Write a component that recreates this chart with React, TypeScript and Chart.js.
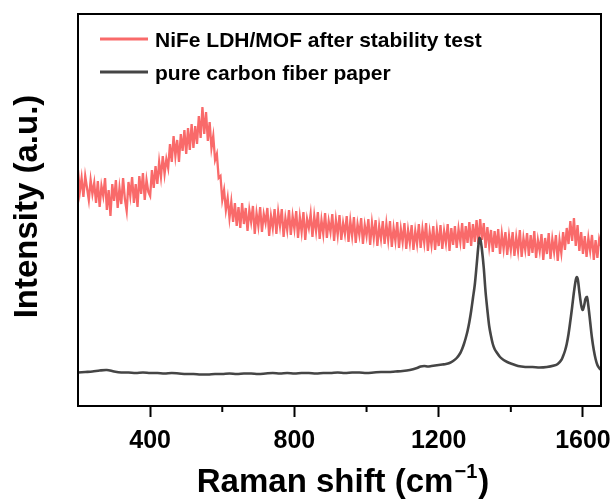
import { useEffect, useRef } from "react";
import { Chart, registerables } from "chart.js";

Chart.register(...registerables);

const X_MIN = 200;
const X_MAX = 1650;
const Y_MIN = 0;
const Y_MAX = 392;
const X_TICKS = [400, 800, 1200, 1600];
const X_MINOR_TICKS = [600, 1000, 1400];
const SERIES_LABELS = ["NiFe LDH/MOF after stability test", "pure carbon fiber paper"];
const X_TITLE = "Raman shift (cm";
const X_TITLE_SUP = "\u22121";
const Y_TITLE = "Intensity (a.u.)";

// NiFe LDH/MOF after stability test: sampled every 5 cm-1 from 200 to 1650
const RED_START = 200;
const RED_STEP = 5;
const redY = [
  236, 214, 228, 209, 230, 218, 206, 226, 212, 223,
  203, 225, 199, 220, 210, 228, 196, 216, 190, 222,
  205, 226, 198, 218, 202, 228, 207, 195, 224, 210,
  229, 203, 222, 199, 230, 212, 233, 206, 226, 214,
  210, 236, 218, 240, 222, 244, 229, 250, 232, 247,
  238, 262, 244, 270, 250, 266, 244, 272, 255, 276,
  252, 278, 256, 282, 258, 280, 262, 290, 268, 299,
  272, 294, 265, 284, 258, 270, 246, 252, 228, 230,
  206, 216, 196, 208, 188, 204, 184, 203, 180, 199,
  178, 203, 182, 198, 175, 196, 184, 200, 172, 193,
  180, 199, 174, 192, 183, 198, 170, 190, 178, 197,
  172, 194, 180, 197, 169, 188, 176, 196, 171, 190,
  177, 195, 168, 189, 174, 194, 166, 187, 178, 192,
  169, 190, 175, 194, 167, 186, 172, 193, 168, 185,
  174, 192, 165, 186, 171, 191, 166, 183, 172, 190,
  164, 185, 170, 189, 163, 182, 171, 188, 162, 181,
  170, 187, 161, 183, 168, 186, 160, 180, 167, 185,
  162, 182, 166, 185, 159, 178, 165, 184, 158, 177,
  164, 183, 157, 176, 163, 181, 156, 175, 162, 182,
  158, 177, 163, 183, 155, 174, 161, 180, 156, 176,
  160, 181, 157, 175, 163, 182, 155, 178, 161, 180,
  158, 177, 164, 183, 157, 180, 163, 184, 160, 182,
  164, 186, 162, 187, 166, 183, 158, 179, 160, 176,
  154, 175, 158, 177, 152, 172, 157, 174, 151, 170,
  156, 174, 150, 169, 155, 176, 149, 168, 156, 173,
  150, 171, 153, 175, 148, 166, 155, 172, 146, 168,
  152, 173, 147, 167, 154, 171, 145, 166, 153, 174,
  156, 178, 162, 185, 165, 188, 160, 181, 155, 174,
  152, 170, 149, 168, 155, 171, 146, 166, 148, 167,
  160,
];

// pure carbon fiber paper
const grayX = [
  200, 220, 240, 260, 280, 300, 320, 340, 360, 380,
  400, 420, 440, 460, 480, 500, 520, 540, 560, 580,
  600, 620, 640, 660, 680, 700, 720, 740, 760, 780,
  800, 820, 840, 860, 880, 900, 920, 940, 960, 980,
  1000, 1020, 1040, 1060, 1080, 1100, 1120, 1140, 1150, 1160,
  1170, 1180, 1190, 1200, 1210, 1220, 1230, 1240, 1250, 1260,
  1265, 1270, 1275, 1280, 1285, 1290, 1295, 1300, 1305, 1310,
  1313, 1316, 1320, 1325, 1330, 1335, 1340, 1345, 1350, 1355,
  1360, 1370, 1380, 1390, 1400, 1420, 1440, 1460, 1480, 1500,
  1520, 1530, 1540, 1545, 1550, 1555, 1560, 1565, 1570, 1575,
  1580, 1583, 1586, 1590, 1595, 1599, 1603, 1607, 1611, 1615,
  1620, 1625, 1630, 1635, 1640, 1645, 1650,
];
const grayY = [
  33.5, 34, 34.5, 35.5, 36, 34.5, 33.5, 33.5, 33, 33.5,
  33, 33, 32.5, 33, 32.5, 32, 32, 31.5, 31.5, 32,
  32, 32.5, 32, 32.5, 32.5, 32, 32.5, 33, 32.5, 33,
  32.5, 33, 33, 32.5, 33, 33, 33.5, 33, 33.5, 33.5,
  33, 33.5, 34, 34, 34.5, 35, 36, 38, 39.5, 40,
  39.5, 40, 40.5, 41, 41.5, 42, 43, 45, 48, 53,
  57, 62, 68, 75, 84, 95, 108, 121, 140, 160,
  168, 166, 156, 138, 114, 96, 80, 70, 62, 57,
  54, 49, 46, 44, 42.5, 40, 39, 39, 38.5, 39,
  40.5, 42, 46, 50, 55, 62, 72, 85, 99, 114,
  126, 129, 126, 114, 101, 96, 100, 107, 109, 100,
  84, 68, 56, 47, 41, 38, 36,
];

const RED_COLOR = "#f96a6a";
const GRAY_COLOR = "#454545";
const FONT = '"Liberation Sans", Arial, Helvetica, sans-serif';

const decorPlugin = {
  id: "decor",
  afterDraw(chart: any) {
    const { ctx, chartArea: a, scales } = chart;
    const x = scales.x;
    ctx.save();
    // frame
    ctx.strokeStyle = "#000";
    ctx.lineWidth = 2;
    ctx.strokeRect(a.left, a.top, a.right - a.left, a.bottom - a.top);
    // minor ticks
    X_MINOR_TICKS.forEach((v) => {
      const px = x.getPixelForValue(v);
      ctx.beginPath();
      ctx.moveTo(px, a.bottom);
      ctx.lineTo(px, a.bottom + 6);
      ctx.stroke();
    });
    // legend
    const colors = [RED_COLOR, GRAY_COLOR];
    const rowsY = [39, 72];
    ctx.font = `bold 21px ${FONT}`;
    ctx.textAlign = "left";
    ctx.textBaseline = "alphabetic";
    SERIES_LABELS.forEach((label, i) => {
      ctx.strokeStyle = colors[i];
      ctx.lineWidth = 3;
      ctx.beginPath();
      ctx.moveTo(100, rowsY[i]);
      ctx.lineTo(148, rowsY[i]);
      ctx.stroke();
      ctx.fillStyle = "#000";
      ctx.fillText(label, 155, rowsY[i] + 8);
    });
    // x title with superscript
    const mainFont = `bold 33px ${FONT}`;
    const supFont = `bold 20px ${FONT}`;
    ctx.font = mainFont;
    const w1 = ctx.measureText(X_TITLE).width;
    const w3 = ctx.measureText(")").width;
    ctx.font = supFont;
    const w2 = ctx.measureText(X_TITLE_SUP).width;
    const total = w1 + w2 + w3 + 2;
    let sx = 343 - total / 2;
    const by = 492;
    ctx.fillStyle = "#000";
    ctx.font = mainFont;
    ctx.fillText(X_TITLE, sx, by);
    sx += w1 + 1;
    ctx.font = supFont;
    ctx.fillText(X_TITLE_SUP, sx, by - 14);
    sx += w2 + 1;
    ctx.font = mainFont;
    ctx.fillText(")", sx, by);
    // y title
    ctx.translate(37, 206.5);
    ctx.rotate(-Math.PI / 2);
    ctx.textAlign = "center";
    ctx.font = mainFont;
    ctx.fillText(Y_TITLE, 0, 0);
    ctx.restore();
  },
};

export default function App() {
  const canvasRef = useRef<HTMLCanvasElement | null>(null);

  useEffect(() => {
    const canvas = canvasRef.current;
    if (!canvas) return;
    const redData = redY.map((y, i) => ({ x: RED_START + i * RED_STEP, y }));
    const grayData = grayX.map((x, i) => ({ x, y: grayY[i] }));
    const chart = new Chart(canvas, {
      type: "line",
      data: {
        datasets: [
          {
            label: SERIES_LABELS[0],
            data: redData,
            borderColor: RED_COLOR,
            borderWidth: 2.3,
            pointRadius: 0,
            tension: 0,
            order: 2,
          },
          {
            label: SERIES_LABELS[1],
            data: grayData,
            borderColor: GRAY_COLOR,
            borderWidth: 2.6,
            pointRadius: 0,
            tension: 0.3,
            order: 1,
          },
        ],
      },
      options: {
        responsive: false,
        animation: false,
        events: [],
        layout: { padding: { left: 78, right: 15, top: 14, bottom: 0 } },
        plugins: {
          legend: { display: false },
          tooltip: { enabled: false },
          title: { display: false },
        },
        scales: {
          x: {
            type: "linear",
            min: X_MIN,
            max: X_MAX,
            position: "bottom",
            border: { display: false },
            grid: {
              drawOnChartArea: false,
              drawTicks: true,
              tickLength: 11,
              tickWidth: 2,
              tickColor: "#000",
            },
            ticks: {
              color: "#000",
              font: { family: FONT, weight: "bold", size: 25 },
              padding: 9,
              maxRotation: 0,
              autoSkip: false,
              callback: (v: any) => String(v),
            },
            afterBuildTicks: (scale: any) => {
              scale.ticks = X_TICKS.map((v) => ({ value: v }));
            },
            afterFit: (scale: any) => {
              scale.height = 96;
              scale.paddingLeft = 0;
              scale.paddingRight = 0;
            },
          },
          y: {
            display: false,
            min: Y_MIN,
            max: Y_MAX,
          },
        },
      },
      plugins: [decorPlugin],
    } as any);
    return () => chart.destroy();
  }, []);

  return (
    <div style={{ position: "absolute", left: 0, top: 0, width: 616, height: 502, background: "#fff" }}>
      <canvas ref={canvasRef} width={616} height={502} />
    </div>
  );
}
